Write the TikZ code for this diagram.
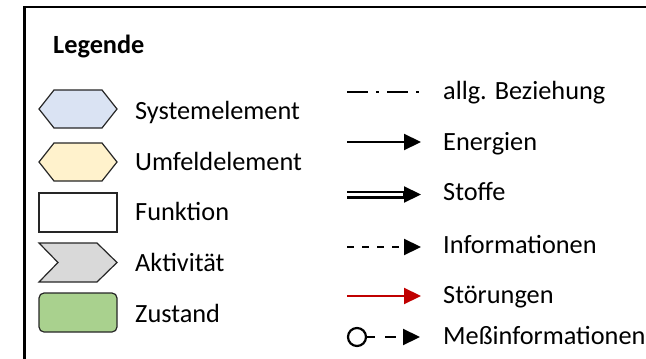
\documentclass[tikz,border=0pt]{standalone}
\usepackage{fontspec}
\setmainfont{Carlito}
\usetikzlibrary{arrows.meta}
\definecolor{sysblue}{HTML}{DAE3F3}
\definecolor{umfyellow}{HTML}{FFF2CC}
\definecolor{aktgray}{HTML}{D9D9D9}
\definecolor{zustgreen}{HTML}{A9D18E}
\definecolor{stoerred}{HTML}{C00000}
\begin{document}
\begin{tikzpicture}[x=1pt,y=-1pt,
  lbl/.style={anchor=base west,inner sep=0pt,font=\fontsize{26.3}{30}\selectfont},
  shapeline/.style={draw=black!85,line width=1.2pt},
  sample/.style={line width=2.2pt},
  head/.style={-{Triangle[length=17pt,width=16pt]}}]
\useasboundingbox (0,0) rectangle (646,359);
% frame
\draw[line width=2.6pt] (24.7,365) -- (24.7,7) -- (646,7);
% title
\node[lbl,font=\fontsize{26.3}{30}\selectfont\bfseries] (title) at (53,53) {Legende};
% left column shapes
\draw[shapeline,fill=sysblue] (39,109) -- (54,90) -- (102,90) -- (117,109) -- (102,128) -- (54,128) -- cycle;
\draw[shapeline,fill=umfyellow] (39,162) -- (54,143) -- (102,143) -- (117,162) -- (102,181) -- (54,181) -- cycle;
\draw[shapeline,fill=white] (39,193) rectangle (117,232);
\draw[shapeline,fill=aktgray] (39,243) -- (97,243) -- (117,262.5) -- (97,282) -- (39,282) -- (58,262.5) -- cycle;
\draw[shapeline,fill=zustgreen,rounded corners=5pt] (39,293) rectangle (117,332);
% left column labels
\node[lbl] (sys) at (135,119) {Systemelement};
\node[lbl] (umf) at (135,170) {Umfeldelement};
\node[lbl] (fkt) at (135,220) {Funktion};
\node[lbl] (akt) at (135,271) {Aktivität};
\node[lbl] (zst) at (135,322) {Zustand};
% right column labels
\node[lbl] (bez) at (443,99) {allg. Beziehung};
\node[lbl] (ene) at (443,150) {Energien};
\node[lbl] (sto) at (443,200) {Stoffe};
\node[lbl] (inf) at (443,253) {Informationen};
\node[lbl] (stoe) at (443,303) {Störungen};
\node[lbl] (mess) at (443,344) {Meßinformationen};
% sample coordinates
\coordinate (bezA) at (347,92);  \coordinate (bezB) at (420,92);
\coordinate (eneA) at (347,142); \coordinate (eneB) at (421,142);
\coordinate (stoA) at (347,194.5); \coordinate (stoB) at (405,194.5); \coordinate (stoC) at (421,194.5);
\coordinate (infA) at (347,247); \coordinate (infB) at (421,247);
\coordinate (stoeA) at (347,296); \coordinate (stoeB) at (421,296);
\coordinate (messB) at (420,337);
% samples
\draw[sample,dash pattern=on 21pt off 8pt on 3pt off 8pt] (bezA) -- (bezB);
\draw[sample,head] (eneA) -- (eneB);
\draw[line width=2.4pt,double=white,double distance=3.2pt] (stoA) -- (stoB);
\draw[sample,head] ([xshift=-2pt]stoB) -- (stoC);
\draw[sample,head,dash pattern=on 7pt off 8pt] (infA) -- (infB);
\draw[sample,head,color=stoerred] (stoeA) -- (stoeB);
\node[draw,line width=2.2pt,circle,minimum size=18pt,inner sep=0pt] (circ) at (357,337) {};
\draw[sample,head,dash pattern=on 8pt off 10pt on 11pt off 8pt] (circ.east) -- (messB);
\end{tikzpicture}
\end{document}
